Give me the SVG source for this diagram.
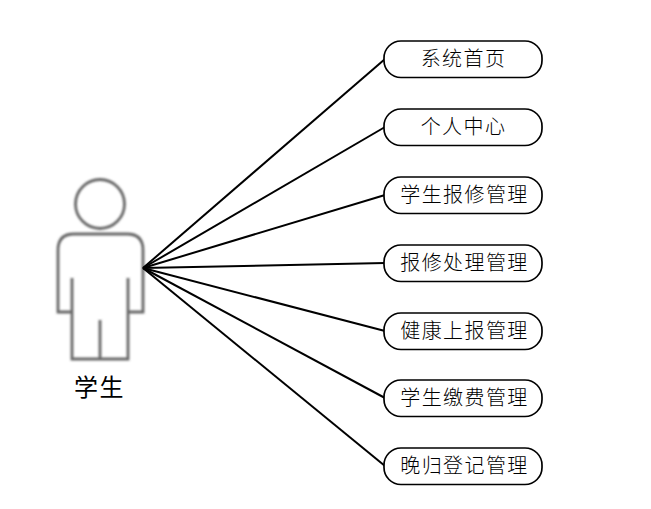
<svg xmlns="http://www.w3.org/2000/svg" width="651" height="509" viewBox="0 0 651 509">
<style>
.b{fill:#fff;stroke:#000;stroke-width:1.700}
.t{font-family:"Noto Sans CJK SC","Noto Sans CJK JP",sans-serif;font-size:20px;letter-spacing:1.400px;text-anchor:middle;fill:#000;font-weight:300}
.a{fill:none;stroke:#666;stroke-width:2.800}
#connectors line{stroke:#000;stroke-width:2}
</style>
<defs><filter id="blur" x="-10%" y="-10%" width="120%" height="120%"><feGaussianBlur stdDeviation="0.900"/></filter></defs>
<rect width="651" height="509" fill="#fff"/>
<g id="actor">
<g filter="url(#blur)">
<circle class="a" cx="100" cy="204" r="24.500"/>
<path class="a" d="M72 312H58V250Q58 234 74 234H127Q143 234 143 250V312H128M72 278V359H128V278M100 320V359"/>
</g>
<text x="99.500" y="396" font-family="'Noto Sans CJK SC',sans-serif" font-size="24" letter-spacing="1.500" text-anchor="middle" fill="#000">学生</text>
</g>
<g id="connectors">
<line x1="143" y1="268" x2="385" y2="59"/>
<line x1="143" y1="268" x2="385" y2="127"/>
<line x1="143" y1="268" x2="385" y2="195"/>
<line x1="143" y1="268" x2="385" y2="263"/>
<line x1="143" y1="268" x2="385" y2="331"/>
<line x1="143" y1="268" x2="385" y2="398"/>
<line x1="143" y1="268" x2="385" y2="466"/>
</g>
<g id="n1"><rect class="b" x="384" y="41" width="158" height="36.500" rx="17"/><text class="t" x="463.500" y="66">系统首页</text></g>
<g id="n2"><rect class="b" x="384" y="109" width="158" height="36.500" rx="17"/><text class="t" x="463.500" y="134">个人中心</text></g>
<g id="n3"><rect class="b" x="384" y="177" width="158" height="36.500" rx="17"/><text class="t" x="464.500" y="202">学生报修管理</text></g>
<g id="n4"><rect class="b" x="384" y="245" width="158" height="36.500" rx="17"/><text class="t" x="464.500" y="270">报修处理管理</text></g>
<g id="n5"><rect class="b" x="384" y="313" width="158" height="36.500" rx="17"/><text class="t" x="464.500" y="338">健康上报管理</text></g>
<g id="n6"><rect class="b" x="384" y="380" width="158" height="36.500" rx="17"/><text class="t" x="464.500" y="405">学生缴费管理</text></g>
<g id="n7"><rect class="b" x="384" y="448" width="158" height="36.500" rx="17"/><text class="t" x="464.500" y="473">晚归登记管理</text></g>
</svg>
